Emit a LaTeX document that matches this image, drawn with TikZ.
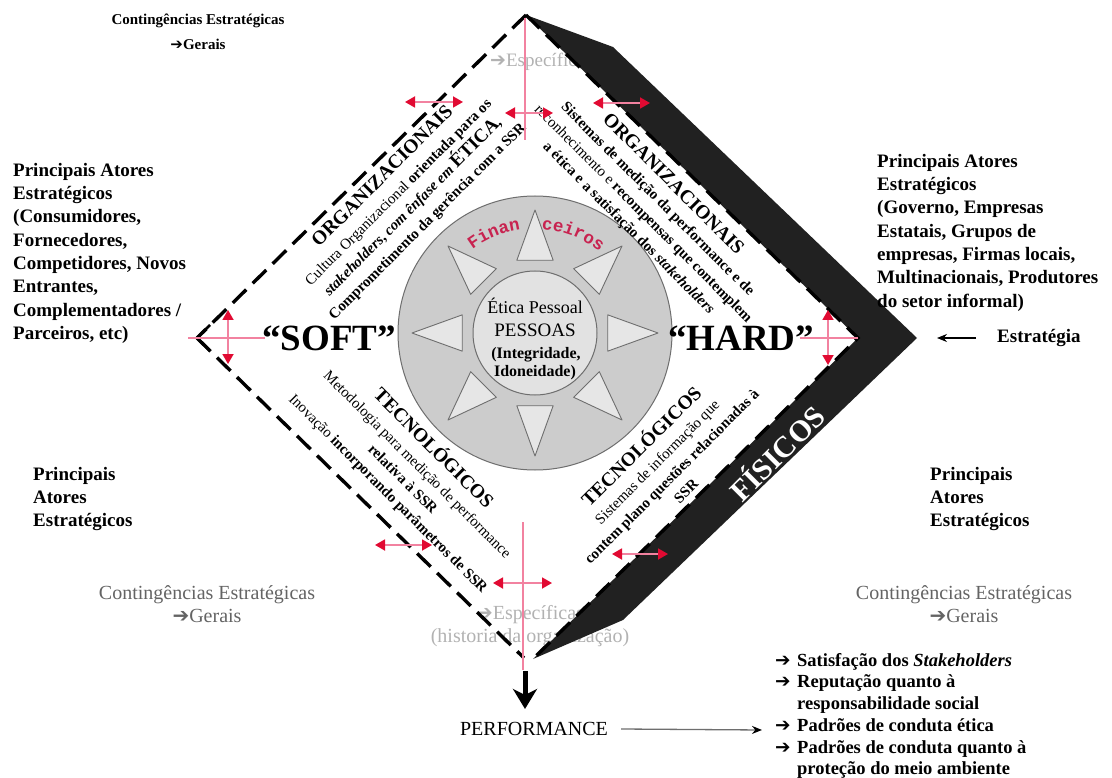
\documentclass[tikz,border=0pt]{standalone}
\usepackage{fontspec}
\setmainfont{Liberation Serif}
\newfontfamily\monofin{Liberation Mono}
\newfontfamily\dejavu{DejaVu Sans}
\usetikzlibrary{arrows.meta,decorations.text}
\definecolor{redtip}{RGB}{225,10,50}
\definecolor{pinkline}{RGB}{242,130,160}
\definecolor{fincol}{RGB}{200,35,80}
\definecolor{circout}{RGB}{204,204,204}
\definecolor{circin}{RGB}{226,226,226}
\definecolor{trifill}{RGB}{230,230,230}
\definecolor{edgegray}{RGB}{110,110,110}
\definecolor{lighttxt}{RGB}{178,178,178}
\definecolor{midtxt}{RGB}{100,100,100}
\definecolor{bandcol}{RGB}{33,33,33}
\newcommand{\fsz}[2]{\fontsize{#1}{#2}\selectfont}
\newcommand{\harr}{{\dejavu ➔}}
\newcommand{\capfont}{\fsz{19.5}{21}\bfseries}
\newcommand{\bulx}{\makebox[22pt][l]{\harr}}
\tikzset{
  dashside/.style={line width=3.4pt, dash pattern=on 19pt off 9pt},
  redtips/.style={{Triangle[color=redtip,width=11pt,length=10pt]}-{Triangle[color=redtip,width=11pt,length=10pt]}},
  dblarrow/.style={pinkline, line width=1.8pt, redtips},
  pinkrule/.style={pinkline, line width=1.3pt},
  tri/.style={draw=edgegray, fill=trifill, line width=0.9pt, line join=round},
  blocktxt/.style={font=\fsz{19}{23.3}\bfseries, align=left, inner sep=0pt, anchor=north west},
  sidetxt/.style={align=center, inner sep=0pt, font=\fsz{15}{20.5}},
  fintxt/.style={decorate, decoration={text along path, text align=center, text={|\fsz{17.5}{17.5}\monofin\bfseries\color{fincol}|#1}}},
}
\begin{document}
\begin{tikzpicture}[x=1pt,y=-1pt]
\fill[white] (0,0) rectangle (1112,778);
\useasboundingbox (0,0) rectangle (1112,778);

% main geometry
\coordinate (T) at (526,15);
\coordinate (L) at (197,338);
\coordinate (B) at (524,658);
\coordinate (R) at (858,338);
\coordinate (O1) at (613,47);
\coordinate (OR) at (917,338);
\coordinate (O2) at (623,620);
\coordinate (BT) at (533,659);
\coordinate (C) at (535,333);

% light gray texts (under the band)
\node[anchor=west, inner sep=0pt, text=lighttxt, font=\fsz{19}{22}] (espT) at (490,62) {\harr Específicas};
\node[align=center, inner sep=0pt, text=lighttxt, font=\fsz{20}{23}] (espB) at (530,626) {\harr Específicas\\(historia da organização)};

% black band (FISICOS)
\fill[bandcol] (T) -- (O1) -- (OR) -- (O2) -- (BT) -- (R) -- cycle;
\draw[dashside] (T) -- (R) -- (BT);
\draw[dashside] (T) -- (L);
\draw[dashside] (L) -- (B);
\draw[line width=2.6pt] ([shift={(13,-13)}]L) -- (L) -- ([shift={(13,13)}]L);
\node[rotate=45, text=white, inner sep=0pt, font=\fsz{30}{30}\bfseries] (fis) at (776,452) {FÍSICOS};

% central circle
\filldraw[fill=circout, draw=edgegray, line width=1pt] (C) circle[radius=137];
\path[fintxt=Finan] ([shift={(-129:104)}]C) arc[start angle=-129, end angle=-96, radius=104];
\path[fintxt=ceiros] ([shift={(-87:104)}]C) arc[start angle=-87, end angle=-51, radius=104];
\foreach \a in {0,45,...,315}{
  \draw[tri] ([shift={(\a:123)}]C) -- ([shift={({\a+14}:75)}]C) -- ([shift={({\a-14}:75)}]C) -- cycle;
}
\filldraw[fill=circin, draw=edgegray, line width=1pt] (C) circle[radius=62];
\node[anchor=base, inner sep=0pt, font=\fsz{18}{18}] (ep1) at (535,313) {Ética Pessoal};
\node[anchor=base, inner sep=0pt, font=\fsz{19}{19}] (ep2) at (535,337) {PESSOAS};
\node[anchor=base, inner sep=0pt, font=\fsz{16}{16}\bfseries] (ep3) at (536,358) {(Integridade,};
\node[anchor=base, inner sep=0pt, font=\fsz{16}{16}\bfseries] (ep4) at (535,376) {Idoneidade)};

% SOFT / HARD
\node[anchor=base, inner sep=0pt, font=\fsz{37}{37}\bfseries] (soft) at (329,350) {“SOFT”};
\node[anchor=base, inner sep=0pt, font=\fsz{37}{37}\bfseries] (hard) at (741,350) {“HARD”};

% side texts
\node[sidetxt, rotate=45] (ulT) at (405,199) {{\capfont ORGANIZACIONAIS}\\[1pt]
  Cultura Organizacional \textbf{orientada para os}\\
  \textbf{\textit{stakeholders}, \textit{com ênfase em} {\fsz{19}{19.5}ÉTICA},}\\
  \textbf{Comprometimento da gerência com a SSR}};
\node[sidetxt, rotate=-45] (urT) at (651,206) {{\capfont ORGANIZACIONAIS}\\
  \textbf{Sistemas de medição da performance e de}\\
  reconhecimento e \textbf{recompensas que contemplem}\\
  \textbf{a ética e a satisfação dos \textit{stakeholders}}};
\node[sidetxt, rotate=-45] (llT) at (412,470) {{\capfont TECNOLÓGICOS}\\[1pt]
  Metodologia para medição de performance\\
  \textbf{relativa à SSR}\\
  Inovação \textbf{incorporando parâmetros de SSR}};
\node[sidetxt, rotate=45] (lrT) at (662,467) {{\capfont TECNOLÓGICOS}\\
  Sistemas de informação que\\
  \textbf{contem plano questões relacionadas à}\\
  \textbf{SSR}};

% outer texts
\node[align=center, inner sep=0pt, font=\fsz{15}{25}\bfseries] (ctl) at (198,32) {Contingências Estratégicas\\\harr Gerais};
\node[align=center, inner sep=0pt, text=midtxt, font=\fsz{20}{23}] (cbl) at (207,604) {Contingências Estratégicas\\\harr Gerais};
\node[align=center, inner sep=0pt, text=midtxt, font=\fsz{20}{23}] (cbr) at (964,604) {Contingências Estratégicas\\\harr Gerais};
\node[blocktxt] (pal) at (13,163) {Principais Atores\\Estratégicos\\(Consumidores,\\Fornecedores,\\Competidores, Novos\\Entrantes,\\Complementadores /\\Parceiros, etc)};
\node[blocktxt] (par) at (877,154) {Principais Atores\\Estratégicos\\(Governo, Empresas\\Estatais, Grupos de\\empresas, Firmas locais,\\Multinacionais, Produtores\\do setor informal)};
\node[blocktxt] (pabl) at (33,467) {Principais\\Atores\\Estratégicos};
\node[blocktxt] (pabr) at (930,467) {Principais\\Atores\\Estratégicos};
\node[anchor=west, inner sep=0pt, font=\fsz{19}{23}\bfseries] (estr) at (997,338) {Estratégia};
\coordinate (estrB) at (937,338);
\draw[line width=1pt, -{Stealth[length=10pt,width=8pt]}] ([xshift=-21pt]estr.west) -- (estrB);

% performance
\node[inner sep=0pt, font=\fsz{20}{20}] (perf) at (534,729) {PERFORMANCE};
\coordinate (pa1) at (525,671);
\coordinate (pa2) at (525,709);
\draw[line width=5pt, -{Stealth[length=20pt,width=24pt,inset=6pt]}] (pa1) -- (pa2);
\coordinate (bulA) at (762,730);
\draw[edgegray, line width=1.3pt, -{Stealth[black,length=10pt,width=8pt]}] ([xshift=13pt]perf.east) -- (bulA);
\node[anchor=north west, align=left, inner sep=0pt, font=\fsz{18.5}{21.7}\bfseries] (bul) at (775,653) {\bulx Satisfação dos \textit{Stakeholders}\\
  \bulx Reputação quanto à\\
  \hspace*{22pt}responsabilidade social\\
  \bulx Padrões de conduta ética\\
  \bulx Padrões de conduta quanto à\\
  \hspace*{22pt}proteção do meio ambiente};

% red guides
\coordinate (vt1) at (525,18); \coordinate (vt2) at (525,140);
\coordinate (vb1) at (523,522); \coordinate (vb2) at (523,670);
\coordinate (hl1) at (188,338); \coordinate (hl2) at (265,338);
\coordinate (hr1) at (800,338); \coordinate (hr2) at (858,338);
\draw[pinkrule] (vt1) -- (vt2);
\draw[pinkrule] (vb1) -- (vb2);
\draw[pinkrule] (hl1) -- (hl2);
\draw[pinkrule] (hr1) -- (hr2);
\coordinate (a1w) at (405,102); \coordinate (a1e) at (463,102);
\coordinate (a2w) at (593,103); \coordinate (a2e) at (650,103);
\coordinate (a3w) at (505,113); \coordinate (a3e) at (553,113);
\coordinate (a4w) at (375,545); \coordinate (a4e) at (432,545);
\coordinate (a5w) at (612,554); \coordinate (a5e) at (668,554);
\coordinate (a6w) at (493,583); \coordinate (a6e) at (552,583);
\coordinate (a7n) at (228,310); \coordinate (a7s) at (228,364);
\coordinate (a8n) at (828,310); \coordinate (a8s) at (828,365);
\draw[dblarrow] (a1w) -- (a1e);
\draw[dblarrow] (a2w) -- (a2e);
\draw[dblarrow] (a3w) -- (a3e);
\draw[dblarrow] (a4w) -- (a4e);
\draw[dblarrow] (a5w) -- (a5e);
\draw[dblarrow] (a6w) -- (a6e);
\draw[dblarrow] (a7n) -- (a7s);
\draw[dblarrow] (a8n) -- (a8s);
\end{tikzpicture}
\end{document}
